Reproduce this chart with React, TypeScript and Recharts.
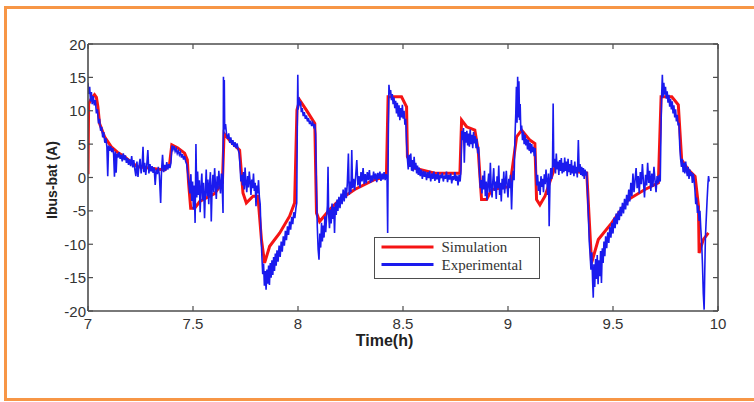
import React from 'react';
import { LineChart, Line, XAxis, YAxis, Legend } from 'recharts';

// Axis ticks
const timeTicks = [7, 7.5, 8, 8.5, 9, 9.5, 10];
const currentTicks = [-20, -15, -10, -5, 0, 5, 10, 15, 20];
const seriesOrder = ['Simulation', 'Experimental'];

// Simulated battery bus current (A) against time (h)
const simTime = [
  7.000, 7.003, 7.015, 7.031, 7.040, 7.047, 7.055, 7.079,
  7.111, 7.140, 7.174, 7.205, 7.237, 7.270, 7.301, 7.335,
  7.365, 7.388, 7.399, 7.428, 7.460, 7.473, 7.479, 7.489,
  7.508, 7.532, 7.579, 7.603, 7.640, 7.648, 7.674, 7.722,
  7.738, 7.754, 7.786, 7.809, 7.826, 7.841, 7.865, 7.913,
  7.960, 7.984, 7.995, 8.008, 8.040, 8.080, 8.088, 8.103,
  8.151, 8.200, 8.270, 8.366, 8.421, 8.429, 8.493, 8.517,
  8.521, 8.556, 8.652, 8.771, 8.779, 8.803, 8.842, 8.858,
  8.874, 8.898, 8.922, 9.009, 9.041, 9.065, 9.104, 9.128,
  9.136, 9.152, 9.176, 9.224, 9.300, 9.375, 9.386, 9.398,
  9.430, 9.494, 9.573, 9.652, 9.716, 9.729, 9.780, 9.811,
  9.827, 9.859, 9.891, 9.907, 9.910, 9.930, 9.954,
];
const simCurrent = [
  0.5, 11.0, 11.8, 12.4, 12.0, 10.6, 8.1, 6.1,
  4.6, 3.8, 3.1, 2.3, 1.6, 1.5, 1.4, 1.25,
  1.15, 1.9, 4.9, 4.4, 3.65, 2.65, -0.8, -4.6,
  -4.6, -3.6, -2.8, -2.4, -0.8, 6.6, 5.6, 4.1,
  -2.3, -3.8, -2.8, -2.8, -9.3, -12.8, -10.3, -8.3,
  -5.8, -3.8, 10.1, 11.6, 10.1, 8.1, -5.3, -6.6,
  -4.8, -3.3, -1.8, -0.3, 0.15, 12.1, 12.1, 10.6,
  3.1, 1.4, 0.65, 0.65, 8.6, 7.6, 7.1, 4.1,
  -3.3, -3.3, -1.8, -1.35, 6.1, 7.1, 5.6, 5.1,
  -3.3, -4.1, -2.8, 1.6, 1.0, 0.65, -5.8, -12.8,
  -9.3, -6.8, -3.3, -1.8, -0.8, 12.1, 12.1, 10.9,
  2.65, 1.15, 0.15, -4.3, -11.3, -9.3, -8.3,
];

// Measured battery bus current (A) against time (h)
const expTime = [
  7.000, 7.004, 7.008, 7.012, 7.016, 7.020, 7.025, 7.030,
  7.035, 7.040, 7.045, 7.050, 7.055, 7.060, 7.065, 7.070,
  7.075, 7.080, 7.085, 7.090, 7.094, 7.098, 7.103, 7.108,
  7.113, 7.118, 7.122, 7.126, 7.130, 7.134, 7.138, 7.143,
  7.148, 7.153, 7.158, 7.163, 7.168, 7.173, 7.178, 7.183,
  7.188, 7.193, 7.198, 7.203, 7.208, 7.213, 7.218, 7.223,
  7.228, 7.233, 7.238, 7.243, 7.248, 7.253, 7.258, 7.262,
  7.266, 7.270, 7.275, 7.280, 7.285, 7.290, 7.295, 7.300,
  7.305, 7.310, 7.315, 7.320, 7.325, 7.330, 7.335, 7.340,
  7.346, 7.350, 7.355, 7.360, 7.365, 7.370, 7.375, 7.380,
  7.385, 7.390, 7.395, 7.400, 7.405, 7.410, 7.415, 7.420,
  7.425, 7.430, 7.435, 7.440, 7.445, 7.450, 7.455, 7.460,
  7.465, 7.470, 7.475, 7.480, 7.485, 7.490, 7.494, 7.498,
  7.502, 7.506, 7.510, 7.514, 7.518, 7.522, 7.526, 7.530,
  7.534, 7.538, 7.542, 7.546, 7.550, 7.555, 7.559, 7.563,
  7.567, 7.571, 7.575, 7.579, 7.583, 7.587, 7.591, 7.595,
  7.599, 7.603, 7.607, 7.611, 7.615, 7.619, 7.623, 7.627,
  7.631, 7.635, 7.639, 7.643, 7.645, 7.647, 7.649, 7.651,
  7.655, 7.660, 7.665, 7.670, 7.675, 7.680, 7.685, 7.690,
  7.695, 7.700, 7.705, 7.710, 7.715, 7.720, 7.725, 7.728,
  7.732, 7.736, 7.740, 7.744, 7.748, 7.752, 7.756, 7.760,
  7.764, 7.768, 7.772, 7.776, 7.780, 7.784, 7.788, 7.792,
  7.796, 7.800, 7.804, 7.808, 7.812, 7.816, 7.820, 7.824,
  7.828, 7.832, 7.836, 7.840, 7.844, 7.848, 7.852, 7.856,
  7.860, 7.864, 7.868, 7.872, 7.876, 7.880, 7.884, 7.888,
  7.892, 7.896, 7.900, 7.905, 7.910, 7.915, 7.920, 7.925,
  7.930, 7.935, 7.940, 7.945, 7.950, 7.955, 7.960, 7.965,
  7.970, 7.975, 7.980, 7.985, 7.990, 7.994, 7.997, 7.999,
  8.001, 8.004, 8.008, 8.012, 8.016, 8.020, 8.025, 8.030,
  8.035, 8.040, 8.045, 8.050, 8.055, 8.060, 8.065, 8.070,
  8.075, 8.080, 8.084, 8.088, 8.092, 8.096, 8.100, 8.104,
  8.108, 8.112, 8.116, 8.120, 8.124, 8.128, 8.132, 8.136,
  8.140, 8.143, 8.146, 8.150, 8.154, 8.158, 8.162, 8.166,
  8.170, 8.174, 8.178, 8.182, 8.186, 8.190, 8.195, 8.200,
  8.205, 8.210, 8.215, 8.220, 8.225, 8.230, 8.235, 8.240,
  8.244, 8.248, 8.252, 8.256, 8.260, 8.265, 8.270, 8.275,
  8.280, 8.285, 8.290, 8.295, 8.300, 8.305, 8.310, 8.315,
  8.320, 8.325, 8.330, 8.335, 8.340, 8.345, 8.350, 8.355,
  8.360, 8.365, 8.370, 8.375, 8.380, 8.385, 8.390, 8.395,
  8.400, 8.405, 8.410, 8.415, 8.420, 8.424, 8.427, 8.430,
  8.433, 8.437, 8.441, 8.445, 8.449, 8.453, 8.457, 8.461,
  8.465, 8.469, 8.473, 8.477, 8.481, 8.485, 8.489, 8.493,
  8.497, 8.501, 8.505, 8.509, 8.513, 8.517, 8.521, 8.525,
  8.529, 8.533, 8.537, 8.541, 8.545, 8.549, 8.553, 8.557,
  8.561, 8.565, 8.569, 8.573, 8.577, 8.582, 8.587, 8.592,
  8.597, 8.602, 8.607, 8.612, 8.617, 8.622, 8.627, 8.632,
  8.637, 8.642, 8.647, 8.652, 8.657, 8.662, 8.667, 8.672,
  8.677, 8.682, 8.687, 8.692, 8.697, 8.702, 8.707, 8.712,
  8.717, 8.722, 8.727, 8.732, 8.737, 8.742, 8.747, 8.752,
  8.757, 8.762, 8.767, 8.772, 8.776, 8.780, 8.784, 8.788,
  8.792, 8.796, 8.800, 8.804, 8.808, 8.812, 8.816, 8.820,
  8.824, 8.828, 8.832, 8.836, 8.840, 8.844, 8.848, 8.852,
  8.856, 8.860, 8.864, 8.868, 8.872, 8.876, 8.880, 8.884,
  8.888, 8.892, 8.896, 8.900, 8.904, 8.908, 8.912, 8.916,
  8.920, 8.924, 8.928, 8.932, 8.936, 8.940, 8.944, 8.948,
  8.952, 8.956, 8.960, 8.964, 8.968, 8.972, 8.976, 8.980,
  8.984, 8.988, 8.992, 8.996, 9.000, 9.004, 9.008, 9.012,
  9.017, 9.021, 9.025, 9.029, 9.033, 9.037, 9.040, 9.043,
  9.046, 9.049, 9.052, 9.055, 9.058, 9.061, 9.065, 9.069,
  9.073, 9.077, 9.081, 9.085, 9.089, 9.093, 9.097, 9.101,
  9.105, 9.109, 9.113, 9.117, 9.121, 9.125, 9.129, 9.133,
  9.137, 9.141, 9.145, 9.149, 9.153, 9.157, 9.161, 9.165,
  9.169, 9.173, 9.177, 9.181, 9.185, 9.189, 9.193, 9.196,
  9.200, 9.204, 9.208, 9.212, 9.215, 9.218, 9.222, 9.226,
  9.230, 9.234, 9.238, 9.242, 9.246, 9.250, 9.254, 9.258,
  9.262, 9.266, 9.270, 9.274, 9.278, 9.282, 9.286, 9.290,
  9.294, 9.298, 9.302, 9.306, 9.310, 9.314, 9.318, 9.322,
  9.326, 9.330, 9.335, 9.339, 9.343, 9.347, 9.351, 9.355,
  9.359, 9.363, 9.367, 9.371, 9.375, 9.379, 9.383, 9.387,
  9.391, 9.395, 9.399, 9.403, 9.406, 9.409, 9.413, 9.417,
  9.421, 9.425, 9.429, 9.433, 9.437, 9.441, 9.445, 9.449,
  9.453, 9.457, 9.461, 9.465, 9.470, 9.475, 9.480, 9.485,
  9.490, 9.495, 9.500, 9.505, 9.510, 9.515, 9.520, 9.525,
  9.530, 9.535, 9.540, 9.545, 9.550, 9.555, 9.560, 9.565,
  9.570, 9.575, 9.580, 9.585, 9.590, 9.595, 9.600, 9.605,
  9.610, 9.615, 9.620, 9.625, 9.630, 9.635, 9.640, 9.645,
  9.650, 9.655, 9.660, 9.665, 9.670, 9.675, 9.680, 9.685,
  9.690, 9.695, 9.700, 9.705, 9.710, 9.715, 9.720, 9.725,
  9.729, 9.732, 9.735, 9.738, 9.742, 9.746, 9.750, 9.754,
  9.758, 9.762, 9.766, 9.770, 9.774, 9.778, 9.782, 9.786,
  9.790, 9.794, 9.798, 9.802, 9.806, 9.810, 9.814, 9.818,
  9.822, 9.826, 9.830, 9.834, 9.838, 9.842, 9.846, 9.850,
  9.854, 9.858, 9.862, 9.866, 9.870, 9.874, 9.878, 9.882,
  9.886, 9.890, 9.894, 9.898, 9.902, 9.906, 9.910, 9.914,
  9.918, 9.922, 9.926, 9.930, 9.934, 9.937, 9.940, 9.944,
  9.948, 9.952, 9.955, 9.958,
];
const expCurrent = [
  14.2, 12.5, 13.6, 11.4, 12.8, 11.0, 12.2, 10.8,
  11.6, 9.6, 10.2, 8.1, 8.8, 7.0, 7.6, 6.0,
  6.8, 5.2, 5.9, 4.6, 0.2, 4.8, 4.0, 4.7,
  3.8, 4.4, 3.5, 0.1, 3.9, 0.7, 3.6, 3.0,
  3.8, 2.8, 3.4, 2.4, 3.6, 2.6, 3.3, 2.2,
  2.9, 1.9, 2.7, 1.7, 3.2, 1.5, 2.6, 1.2,
  0.2, 2.4, 0.1, 1.8, 2.8, 0.6, 1.9, 4.6,
  0.8, 2.2, 0.4, 1.9, 4.1, 0.6, 2.0, 0.9,
  1.7, 0.7, 1.5, -1.1, 1.2, 0.5, 1.6, 0.3,
  -3.8, 1.0, 3.4, 0.8, 1.9, 1.0, 2.3, 1.2,
  2.0, 1.4, 2.2, 4.8, 4.2, 4.7, 3.9, 4.3,
  3.6, 4.0, 3.4, 3.8, 3.0, 3.5, 2.7, 3.2,
  2.4, 2.0, 0.6, -0.8, -2.4, 0.5, -3.5, -0.6,
  -4.8, -1.2, -6.8, 5.0, -3.0, 0.9, -2.6, -0.4,
  -5.2, -1.5, 0.6, -3.4, -0.8, -6.1, -2.0, 1.2,
  -2.8, -0.3, -4.0, -1.0, 0.8, -6.6, -1.6, 0.4,
  -2.2, 1.4, -1.2, -3.2, 0.2, -1.8, 1.0, -0.9,
  -2.4, 0.6, -1.0, -5.3, 15.1, 6.5, 14.6, 7.2,
  8.0, 6.4, 5.8, 6.6, 5.2, 6.0, 4.9, 5.6,
  4.6, 5.3, 4.4, 5.1, 4.2, 3.6, 1.2, -0.6,
  0.4, -1.2, 0.8, -1.8, 1.5, -0.9, -2.2, 0.2,
  -1.5, 0.9, -0.6, -2.6, -0.3, -1.6, 0.6, -2.0,
  -0.8, -4.3, -1.2, -2.4, -0.4, -2.9, -4.0, -8.5,
  -11.8, -14.5, -12.9, -16.2, -14.0, -16.8, -13.8, -15.9,
  -13.2, -16.1, -12.8, -15.0, -12.4, -14.6, -11.9, -14.0,
  -11.4, -13.2, -10.9, -12.6, -10.2, -11.9, -9.6, -11.1,
  -8.8, -10.2, -8.0, -9.4, -7.3, -8.6, -6.6, -7.8,
  -5.9, -7.0, -5.2, -6.1, -4.6, -3.8, 9.0, 15.4,
  10.2, 12.0, 10.8, 11.4, 9.8, 10.4, 9.2, 9.8,
  8.8, 9.3, 8.4, 8.9, 8.0, 8.5, 7.7, 8.2,
  7.6, 8.0, 6.5, -2.0, -7.5, -10.8, -12.3, -8.4,
  -10.5, -6.8, -9.6, -7.2, -9.0, -5.8, -8.2, -6.0,
  -4.2, 1.6, -5.5, -7.6, -4.8, -6.9, -3.9, -6.2,
  -4.4, -8.3, -3.8, -5.6, -3.3, -5.0, -2.9, -4.6,
  -2.4, -4.0, -1.8, -3.6, -1.5, -3.1, -0.8, 3.6,
  -2.6, -0.6, -2.2, 4.1, -1.6, -0.2, -1.9, 0.4,
  2.6, -1.2, 0.2, -1.5, 0.8, -0.6, 1.4, -1.0,
  0.5, -0.9, 0.8, -0.4, 1.1, -0.8, 0.3, -0.6,
  0.9, -0.3, 0.6, -0.7, 0.7, -0.2, 0.9, -0.5,
  0.6, -0.3, 0.8, -0.4, 0.5, -0.2, -8.3, 6.0,
  13.9, 12.4, 13.1, 11.6, 12.5, 11.0, 12.0, 10.4,
  11.5, 9.6, 11.2, 9.1, 10.8, 8.6, 10.4, 9.0,
  10.9, 8.8, 10.0, 7.9, 8.8, 5.2, 2.8, 1.2,
  3.4, 1.6, 3.6, 1.0, 2.6, 0.9, 3.1, 1.2,
  2.2, 0.6, 1.8, 0.4, 1.5, 0.2, 1.2, -0.2,
  1.0, 0.1, 0.9, -0.4, 0.8, -0.1, 1.0, -0.6,
  0.6, -0.2, 0.9, -0.5, 0.5, -0.3, 0.8, -0.8,
  0.4, -0.1, 0.7, -0.6, 0.3, -0.2, 0.9, -0.7,
  0.4, -0.3, 0.6, -0.9, 0.2, -0.4, 0.8, -0.5,
  0.3, -1.2, 0.4, -0.6, 1.0, 7.0, 5.6, 7.4,
  2.2, 6.8, 5.2, 7.0, 4.8, 6.6, 4.6, 7.2,
  5.0, 6.4, 4.4, 6.8, 5.1, 6.2, 4.4, 5.8,
  3.6, 4.6, 0.8, -1.6, -0.4, -2.4, 0.3, -1.8,
  1.0, -2.8, -0.6, -3.4, -1.0, 0.6, -2.2, 2.2,
  -1.4, -3.0, -0.4, 1.4, -2.0, -0.6, -3.2, 0.2,
  -1.6, 1.8, -2.6, -0.8, -3.6, -0.2, -1.8, 0.9,
  -2.4, -0.6, 1.0, -1.4, -3.0, -0.2, -1.6, 0.4,
  -4.8, -0.8, 1.0, -0.4, 6.0, 9.5, 13.6, 8.2,
  15.1, 9.0, 14.4, 8.6, 11.0, 7.0, 7.8, 5.6,
  6.9, 5.0, 6.4, 4.8, 5.8, 4.2, 5.6, 4.0,
  5.2, 3.6, 5.0, 3.8, 4.6, 3.2, 4.4, 1.2,
  -1.2, 0.4, -2.0, -0.6, -2.6, 0.2, -1.4, -0.2,
  -2.2, 0.5, -1.0, 1.2, -0.4, -2.6, 0.6, -7.3,
  -0.8, 1.4, -0.2, 1.8, 11.1, 1.5, 2.8, 0.6,
  3.6, 1.2, 2.4, 0.4, 2.6, 1.0, 2.9, 0.6,
  2.2, 0.8, 3.0, 1.0, 2.4, 0.2, 2.8, 0.8,
  2.0, 0.4, 2.6, 0.6, 1.8, 0.2, 2.4, 0.6,
  1.6, 0.0, 5.6, 0.8, 2.0, 0.4, 1.6, 0.2,
  1.4, -0.2, 1.2, 0.3, 0.9, -2.5, -6.0, -9.6,
  -11.5, -13.8, -11.2, -15.6, -18.0, -13.0, -16.4, -12.2,
  -15.2, -11.6, -16.0, -12.4, -14.8, -11.0, -15.8, -10.6,
  -12.8, -9.6, -11.8, -8.8, -10.6, -8.2, -9.8, -7.4,
  -9.0, -6.8, -8.4, -6.0, -7.6, -5.4, -7.0, -5.0,
  -6.4, -4.4, -5.8, -3.8, -5.4, -3.2, -4.8, -2.6,
  -4.2, -1.8, -3.6, -0.8, -2.8, 0.6, -2.2, -0.4,
  1.4, -1.6, 0.2, -2.4, 0.8, -1.0, 2.0, -0.6,
  -3.0, 0.4, -1.2, 2.2, -0.8, 1.0, -2.0, 0.6,
  -1.4, 1.6, -0.4, -2.2, 0.2, -0.9, 0.4, -0.6,
  8.0, 12.6, 15.4, 12.0, 14.2, 12.4, 13.6, 11.8,
  12.9, 11.2, 12.4, 10.6, 11.8, 10.2, 11.4, 9.6,
  10.8, 9.0, 10.2, 8.4, 9.4, 7.8, 8.2, 4.6,
  2.8, 1.6, 2.8, 0.8, 2.2, 0.6, 2.4, 1.0,
  0.2, 1.6, -0.2, 1.2, 0.2, 0.8, -0.8, 0.6,
  -0.4, -1.8, -4.0, -3.0, -5.3, -4.2, -6.5, -5.0,
  -7.6, -9.6, -13.0, -17.4, -19.8, -14.0, -9.0, -6.2,
  -3.4, -1.0, 0.2, -0.6,
];

const toRows = (times: number[], values: number[]) =>
  times.slice(0, values.length).map((t, i) => ({ t, v: values[i] }));

const simulationData = toRows(simTime, simCurrent);
const experimentalData = toRows(expTime, expCurrent);

const AXIS_COLOR = '#4d4d4d';
const TEXT_COLOR = '#333333';
const SANS = '"Liberation Sans", Arial, sans-serif';
const SERIF = '"Liberation Serif", "Times New Roman", serif';
const TICK_LEN = 5;

const tickText = { fontFamily: SANS, fontSize: 15, fill: TEXT_COLOR } as const;

function BottomTick(props: any) {
  const { x, y, payload } = props;
  return (
    <g>
      <line x1={x} x2={x} y1={y} y2={y - TICK_LEN} stroke={AXIS_COLOR} strokeWidth={1.2} />
      <text x={x} y={y + 12} textAnchor="middle" dominantBaseline="central" style={tickText}>
        {String(payload.value)}
      </text>
    </g>
  );
}

function TopTick(props: any) {
  const { x, y } = props;
  return <line x1={x} x2={x} y1={y} y2={y + TICK_LEN} stroke={AXIS_COLOR} strokeWidth={1.2} />;
}

function LeftTick(props: any) {
  const { x, y, payload } = props;
  return (
    <g>
      <line x1={x} x2={x + TICK_LEN} y1={y} y2={y} stroke={AXIS_COLOR} strokeWidth={1.2} />
      <text x={x - 2} y={y} textAnchor="end" dominantBaseline="central" style={tickText}>
        {String(payload.value)}
      </text>
    </g>
  );
}

function RightTick(props: any) {
  const { x, y } = props;
  return <line x1={x} x2={x - TICK_LEN} y1={y} y2={y} stroke={AXIS_COLOR} strokeWidth={1.2} />;
}

function TimeTitle(props: any) {
  const vb = props.viewBox ?? { x: 88, y: 311, width: 630, height: 31 };
  return (
    <text
      x={vb.x + vb.width / 2 - 18.5}
      y={vb.y + 29}
      textAnchor="middle"
      dominantBaseline="central"
      style={{ fontFamily: SANS, fontSize: 16, fontWeight: 700, fill: '#222' }}
    >
      Time(h)
    </text>
  );
}

function CurrentTitle(props: any) {
  const vb = props.viewBox ?? { x: 48, y: 44, width: 40, height: 267 };
  const cx = vb.x + 4;
  const cy = vb.y + vb.height / 2 + 2.5;
  return (
    <text
      x={cx}
      y={cy}
      transform={`rotate(-90 ${cx} ${cy})`}
      textAnchor="middle"
      dominantBaseline="central"
      style={{ fontFamily: SANS, fontSize: 14, fontWeight: 700, fill: '#222' }}
    >
      Ibus-bat (A)
    </text>
  );
}

function LegendBox(props: any) {
  const items = [...(props.payload ?? [])].sort(
    (a: any, b: any) => seriesOrder.indexOf(a.value) - seriesOrder.indexOf(b.value)
  );
  return (
    <div
      style={{
        width: 166,
        height: 42,
        boxSizing: 'border-box',
        border: `1.5px solid ${AXIS_COLOR}`,
        background: '#ffffff',
      }}
    >
      <svg width={163} height={39} style={{ display: 'block' }}>
        {items.map((item: any, i: number) => {
          const cy = 9 + i * 17.5;
          return (
            <g key={item.value}>
              <line x1={6.5} x2={58.5} y1={cy} y2={cy} stroke={item.color} strokeWidth={3.2} />
              <text
                x={66.5}
                y={cy}
                dominantBaseline="central"
                style={{ fontFamily: SERIF, fontSize: 15, fill: TEXT_COLOR }}
              >
                {item.value}
              </text>
            </g>
          );
        })}
      </svg>
    </div>
  );
}

export default function App() {
  return (
    <div
      style={{
        position: 'fixed',
        left: 0,
        top: 0,
        width: 754,
        height: 402,
        overflow: 'hidden',
        background: '#ffffff',
      }}
    >
      <div
        style={{
          position: 'absolute',
          left: 4,
          top: 6,
          width: 780,
          height: 395,
          boxSizing: 'border-box',
          border: '3.5px solid #F79646',
        }}
      />
      <div style={{ position: 'absolute', left: 0, top: 0 }}>
        <LineChart
          width={754}
          height={402}
          margin={{ top: 43, right: 35, bottom: 60, left: 48 }}
        >
          <XAxis
            xAxisId="bottom"
            dataKey="t"
            type="number"
            domain={[7, 10]}
            ticks={timeTicks}
            interval={0}
            allowDataOverflow
            height={31}
            tickSize={0}
            tickMargin={0}
            tickLine={false}
            axisLine={{ stroke: AXIS_COLOR, strokeWidth: 1.6 }}
            tick={<BottomTick />}
            label={<TimeTitle />}
          />
          <XAxis
            xAxisId="top"
            orientation="top"
            dataKey="t"
            type="number"
            domain={[7, 10]}
            ticks={timeTicks}
            interval={0}
            allowDataOverflow
            height={1}
            tickSize={0}
            tickMargin={0}
            tickLine={false}
            axisLine={{ stroke: AXIS_COLOR, strokeWidth: 1.6 }}
            tick={<TopTick />}
          />
          <YAxis
            yAxisId="left"
            type="number"
            domain={[-20, 20]}
            ticks={currentTicks}
            interval={0}
            allowDataOverflow
            width={40}
            tickSize={0}
            tickMargin={0}
            tickLine={false}
            axisLine={{ stroke: AXIS_COLOR, strokeWidth: 1.6 }}
            tick={<LeftTick />}
            label={<CurrentTitle />}
          />
          <YAxis
            yAxisId="right"
            orientation="right"
            type="number"
            domain={[-20, 20]}
            ticks={currentTicks}
            interval={0}
            allowDataOverflow
            width={1}
            tickSize={0}
            tickMargin={0}
            tickLine={false}
            axisLine={{ stroke: AXIS_COLOR, strokeWidth: 1.6 }}
            tick={<RightTick />}
          />
          <Line
            xAxisId="bottom"
            yAxisId="left"
            data={simulationData}
            dataKey="v"
            name="Simulation"
            type="linear"
            stroke="#f51414"
            strokeWidth={3}
            dot={false}
            activeDot={false}
            isAnimationActive={false}
          />
          <Line
            xAxisId="bottom"
            yAxisId="left"
            data={experimentalData}
            dataKey="v"
            name="Experimental"
            type="linear"
            stroke="#1a1aee"
            strokeWidth={1.6}
            dot={false}
            activeDot={false}
            isAnimationActive={false}
          />
          <Legend
            layout="horizontal"
            verticalAlign="middle"
            align="center"
            content={<LegendBox />}
            wrapperStyle={{ left: 374, top: 237, width: 166, height: 42 }}
          />
        </LineChart>
      </div>
    </div>
  );
}
